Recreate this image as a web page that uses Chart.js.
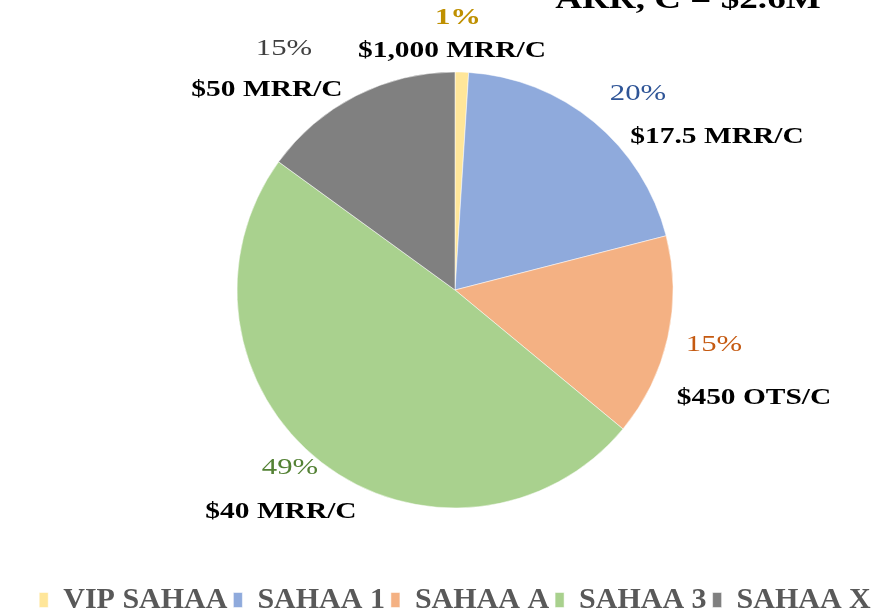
<!DOCTYPE html>
<html>
<head>
<meta charset="utf-8">
<script src="https://cdn.jsdelivr.net/npm/chart.js@4.4.0/dist/chart.umd.min.js"></script>
<style>
  html, body { margin: 0; padding: 0; background: #fff; overflow: hidden; }
  #wrap { width: 884px; height: 625px; position: relative; }
</style>
</head>
<body>
<div id="wrap"><canvas id="chart"></canvas></div>
<script>
// DATOS
const categories = ['VIP SAHAA', 'SAHAA 1', 'SAHAA A', 'SAHAA 3', 'SAHAA X'];
const shares = [1, 20, 15, 49, 15];
const priceLabels = ['$1,000 MRR/C', '$17.5 MRR/C', '$450 OTS/C', '$40 MRR/C', '$50 MRR/C'];
const titleText = 'ARR, C = $2.6M';

// ESTILO
const sliceColors = ['#FFE699', '#8FAADC', '#F4B183', '#A9D18E', '#808080'];
const pctColors = ['#BF9000', '#2F5597', '#C55A11', '#548235', '#404040'];
// posiciones de etiquetas relativas al centro del pie (pct, precio)
const labelOffsets = [
    [[3, -272], [-3, -239]],
    [[183, -196], [262, -153]],
    [[259, 55], [299, 108]],
    [[-165, 178], [-174, 222]],
    [[-171, -241], [-188, -200]]
];
const SX = 1.28; // ensanchar la serif para parecerse a Garamond

function drawText(ctx, txt, x, y, font, color) {
    ctx.save();
    ctx.translate(x, y);
    ctx.scale(SX, 1);
    ctx.font = font;
    ctx.fillStyle = color;
    ctx.textAlign = 'center';
    ctx.textBaseline = 'middle';
    ctx.fillText(txt, 0, 0);
    ctx.restore();
}

const labelsPlugin = {
    id: 'sliceLabels',
    afterDatasetsDraw(chart) {
        const ctx = chart.ctx;
        const meta = chart.getDatasetMeta(0);
        const total = shares.reduce((a, b) => a + b, 0);
        meta.data.forEach((arc, i) => {
            const cx = arc.x, cy = arc.y;
            const pct = Math.round(shares[i] / total * 100) + '%';
            const [p, v] = labelOffsets[i];
            const pFont = i === 0 ? 'bold 24px "Liberation Serif"' : '24px "Liberation Serif"';
            drawText(ctx, pct, cx + p[0], cy + p[1], pFont, pctColors[i]);
            drawText(ctx, priceLabels[i], cx + v[0], cy + v[1], 'bold 23px "Liberation Serif"', '#000');
        });
        // titulo recortado arriba
        ctx.save();
        ctx.translate(688, -1);
        ctx.scale(SX, 1);
        ctx.font = 'bold 29px "Liberation Serif"';
        ctx.fillStyle = '#000';
        ctx.textAlign = 'center';
        ctx.textBaseline = 'alphabetic';
        ctx.fillText(titleText, 0, 9);
        ctx.restore();
    }
};

new Chart(document.getElementById('chart'), {
    type: 'pie',
    data: {
        labels: categories,
        datasets: [{
            data: shares,
            backgroundColor: sliceColors,
            borderColor: '#ffffff',
            borderWidth: 0.5,
            radius: 218
        }]
    },
    options: {
        responsive: true,
        maintainAspectRatio: false,
        animation: false,
        layout: { padding: { top: 1, left: 26, right: 0, bottom: 0 } },
        plugins: {
            tooltip: { enabled: false },
            legend: {
                position: 'bottom',
                labels: {
                    boxWidth: 9,
                    boxHeight: 15,
                    padding: 6,
                    color: '#595959',
                    font: { family: '"Liberation Serif"', size: 30, weight: 'bold' }
                }
            }
        }
    },
    plugins: [labelsPlugin]
});
</script>
</body>
</html>
